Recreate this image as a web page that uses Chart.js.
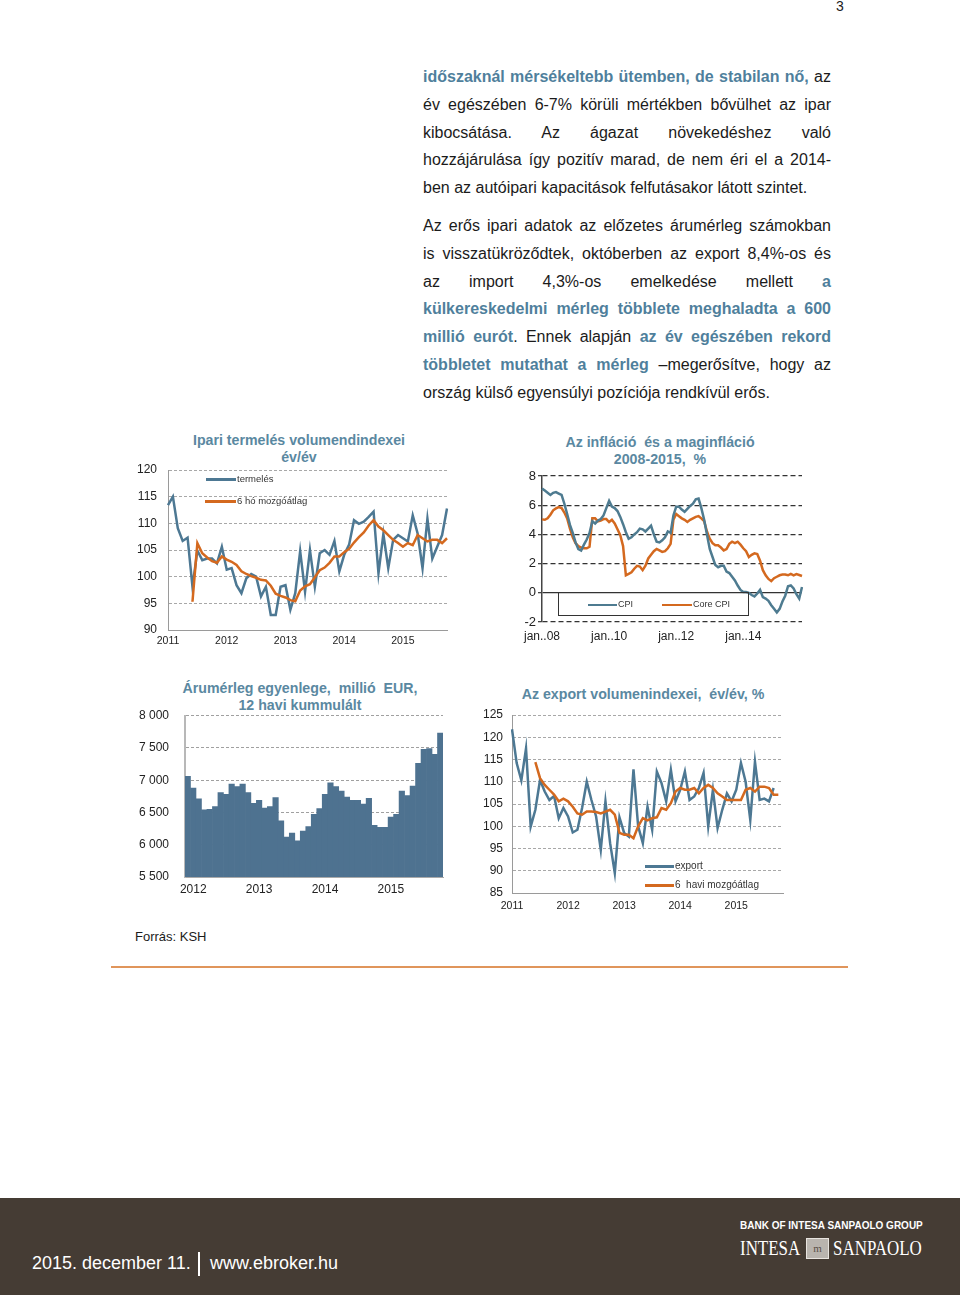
<!DOCTYPE html>
<html lang="hu">
<head>
<meta charset="utf-8">
<title>ebroker – 2015. december 11.</title>
<script src="https://cdn.jsdelivr.net/npm/chart.js@4.4.0/dist/chart.umd.min.js"></script>
<style>
  html, body { margin: 0; padding: 0; background: #fff; }
  body { width: 960px; height: 1295px; position: relative; overflow: hidden;
         font-family: "Liberation Sans", Arial, sans-serif; color: #1b1b1b; }
  .pagenum { position: absolute; left: 836px; top: -2px; font-size: 14px; }
  .para { position: absolute; left: 423px; width: 408px; font-size: 16px; }
  .para div { height: 27.75px; line-height: 27.75px; text-align: justify; text-align-last: justify; }
  .para div.last { text-align: left; text-align-last: left; }
  .hl { color: #4f7f9c; font-weight: bold; }
  .box { position: absolute; }
  .ctitle { position: absolute; width: 300px; text-align: center; font-size: 14.2px; line-height: 17px;
            font-weight: bold; color: #5a88a1; white-space: pre; }
  .lg { position: absolute; font-size: 9.5px; color: #333; line-height: 12px; white-space: nowrap; }
  .lg i { display: inline-block; vertical-align: middle; height: 3px; margin-right: 1px; }
  .cpibox { position: absolute; left: 558px; top: 592px; width: 191px; height: 24px;
            border: 1.5px solid #333; box-sizing: border-box; }
  .source { position: absolute; left: 135px; top: 929px; font-size: 13px; }
  .rule { position: absolute; left: 111px; top: 966px; width: 737px; height: 2px; background: #e0955b; }
  .footer { position: absolute; left: 0; top: 1198px; width: 960px; height: 97px; background: #453c34; color: #fff; }
  .footer div { position: absolute; white-space: nowrap; }
  .fdate { left: 32px; top: 55px; font-size: 18px; line-height: 20px; }
  .fbar { left: 198px; top: 54px; width: 2px; height: 24px; background: #fff; }
  .fweb { left: 210px; top: 55px; font-size: 18px; line-height: 20px; }
  .fgroup { left: 740px; top: 22px; font-size: 10px; font-weight: bold; line-height: 12px; }
  .fword { top: 38px; font-family: "Liberation Serif", serif; font-size: 22px; line-height: 24px;
           transform: scaleX(0.77); transform-origin: left center; }
  .ficon { left: 806px; top: 40px; width: 21px; height: 19px; background: #b9b4ae; border: 1px solid #e8e4df;
           color: #5a5048; font-size: 11px; line-height: 19px; text-align: center; font-family: "Liberation Serif", serif; }
</style>
</head>
<body>

<div class="pagenum">3</div>

<div class="para" style="top:63px">
  <div><span class="hl">időszaknál mérsékeltebb ütemben, de stabilan nő,</span> az</div>
  <div>év egészében 6-7% körüli mértékben bővülhet az ipar</div>
  <div>kibocsátása. Az ágazat növekedéshez való</div>
  <div>hozzájárulása így pozitív marad, de nem éri el a 2014-</div>
  <div class="last">ben az autóipari kapacitások felfutásakor látott szintet.</div>
</div>

<div class="para" style="top:212px">
  <div>Az erős ipari adatok az előzetes árumérleg számokban</div>
  <div>is visszatükröződtek, októberben az export 8,4%-os és</div>
  <div>az import 4,3%-os emelkedése mellett <span class="hl">a</span></div>
  <div><span class="hl">külkereskedelmi mérleg többlete meghaladta a 600</span></div>
  <div><span class="hl">millió eurót</span>. Ennek alapján <span class="hl">az év egészében rekord</span></div>
  <div><span class="hl">többletet mutathat a mérleg</span> –megerősítve, hogy az</div>
  <div class="last">ország külső egyensúlyi pozíciója rendkívül erős.</div>
</div>

<!-- chart titles -->
<div class="ctitle" style="left:149px; top:431.5px">Ipari termelés volumendindexei
év/év</div>
<div class="ctitle" style="left:510px; top:433.5px">Az infláció  és a maginfláció
2008-2015,  %</div>
<div class="ctitle" style="left:150px; top:679.5px">Árumérleg egyenlege,  millió  EUR,
12 havi kummulált</div>
<div class="ctitle" style="left:493px; top:685.5px">Az export volumenindexei,  év/év, %</div>

<div class="box" style="left:125px; top:430px"><canvas id="ipar" width="348" height="232"></canvas></div>
<div class="lg" style="left:206px; top:473px"><i style="width:30px; background:#4d7893"></i>termelés</div>
<div class="lg" style="left:205px; top:495px"><i style="width:31px; background:#d4691f"></i>6 hó mozgóátlag</div>

<div class="box" style="left:500px; top:428px"><canvas id="inflacio" width="320" height="224"></canvas></div>
<div class="cpibox"></div>
<div class="lg" style="left:588px; top:598px; font-size:9px"><i style="width:29px; height:2px; background:#4e7b90"></i>CPI</div>
<div class="lg" style="left:662px; top:598px; font-size:9px"><i style="width:30px; height:2px; background:#d4691f"></i>Core CPI</div>

<div class="box" style="left:128px; top:676px"><canvas id="arumerleg" width="344" height="231"></canvas></div>

<div class="box" style="left:470px; top:680px"><canvas id="export" width="346" height="243"></canvas></div>
<div class="lg" style="left:645px; top:860px; font-size:10px"><i style="width:29px; background:#4d7893"></i>export</div>
<div class="lg" style="left:645px; top:879px; font-size:10px"><i style="width:29px; background:#d4691f"></i>6&nbsp; havi mozgóátlag</div>

<div class="source">Forrás: KSH</div>
<div class="rule"></div>

<div class="footer">
  <div class="fdate">2015. december 11.</div>
  <div class="fbar"></div>
  <div class="fweb">www.ebroker.hu</div>
  <div class="fgroup">BANK OF INTESA SANPAOLO GROUP</div>
  <div class="fword" style="left:740px">INTESA</div>
  <div class="ficon">m</div>
  <div class="fword" style="left:833px">SANPAOLO</div>
</div>

<script>
// Ipari termelés volumenindexe, év/év (2011.01 - 2015.10)
const termeles = [113.4, 115.0, 109.1, 106.7, 107.3, 98.1, 104.9, 103.1, 103.4, 103.4,
  102.5, 105.6, 101.3, 101.6, 98.4, 96.9, 99.7, 100.5, 100.0, 96.3,
  98.1, 92.8, 92.8, 98.1, 98.4, 93.8, 96.9, 104.8, 97.2, 105.0,
  98.1, 104.4, 105.0, 104.1, 106.7, 101.0, 104.1, 106.0, 110.6, 109.9,
  110.3, 111.2, 112.2, 100.6, 108.0, 101.6, 106.9, 107.8, 107.2, 106.6,
  111.5, 108.1, 101.6, 110.9, 103.4, 105.6, 107.8, 112.8];
// 6 hó mozgóátlag (from 2011.06)
const termelesAtlag = [null, null, null, null, null,
  95.3, 106.3, 104.4, 103.6, 102.9, 102.6, 103.8, 103.2, 102.8, 102.2,
  101.0, 100.5, 100.1, 99.8, 99.4, 99.3, 98.3, 96.8, 96.4, 96.1,
  95.6, 95.4, 97.4, 98.2, 98.6, 99.9, 101.2, 101.7, 102.6, 103.8,
  103.8, 104.6, 105.2, 106.4, 107.4, 108.3, 109.6, 110.6, 109.4, 108.7,
  107.8, 106.9, 106.3, 105.6, 106.3, 105.9, 107.8, 107.2, 106.6, 106.9,
  106.9, 106.3, 107.2];

// Infláció, % (2008.01 - 2015.10)
const cpi = [7.15, 7.0, 6.85, 6.7, 6.85, 6.9, 6.8, 6.7, 6.1, 5.4,
  4.65, 4.1, 3.45, 3.0, 2.9, 3.3, 3.65, 4.1, 4.9, 4.75,
  4.95, 5.05, 5.3, 5.8, 6.3, 5.9, 5.8, 5.6, 5.2, 4.7,
  4.15, 3.7, 3.8, 4.0, 4.15, 4.4, 4.35, 4.2, 4.4, 4.6,
  4.0, 3.5, 3.45, 3.6, 3.8, 4.2, 4.1, 5.3, 5.9, 5.9,
  5.7, 5.55, 5.75, 5.95, 6.1, 6.4, 6.45, 5.8, 5.0, 4.0,
  3.0, 2.45, 1.9, 1.75, 1.85, 1.85, 1.45, 1.35, 1.1, 0.85,
  0.5, 0.2, 0.05, 0.05, 0.0, -0.15, -0.25, -0.05, 0.2, -0.3,
  -0.4, -0.55, -0.85, -1.1, -1.35, -1.1, -0.6, -0.2, 0.45, 0.5,
  0.3, -0.1, -0.4, 0.4];
const coreCpi = [5.03, 5.0, 5.1, 5.35, 5.65, 5.78, 5.87, 5.8, 5.5, 5.1,
  4.4, 3.8, 3.4, 3.2, 3.1, 3.05, 3.05, 3.15, 5.1, 5.1,
  4.9, 4.95, 5.05, 5.05, 4.85, 5.0, 4.75, 4.35, 3.95, 3.2,
  1.2, 1.3, 1.4, 1.65, 1.85, 1.8, 1.55, 1.85, 2.35, 2.6,
  2.85, 3.0, 2.9, 2.8, 2.85, 3.05, 3.35, 5.0, 5.4, 5.25,
  5.1, 5.0, 4.85, 5.0, 5.1, 5.2, 5.25, 5.1, 4.9, 4.2,
  3.7, 3.4, 3.25, 3.25, 3.1, 2.9, 3.0, 3.35, 3.5, 3.4,
  3.5, 3.3, 3.05, 2.85, 2.45, 2.6, 2.7, 2.65, 2.2, 1.55,
  1.2, 0.95, 0.8, 1.0, 1.1, 1.2, 1.25, 1.25, 1.2, 1.3,
  1.2, 1.28, 1.22, 1.15];

// Árumérleg egyenlege, millió EUR, 12 havi kumulált (2011.12 - 2015.10)
const arumerleg = [7060, 6880, 6710, 6540, 6550, 6590, 6810, 6780, 6940, 6900,
  6940, 6810, 6640, 6690, 6570, 6590, 6730, 6370, 6120, 6180,
  6060, 6210, 6280, 6470, 6560, 6780, 6960, 6900, 6830, 6740,
  6690, 6690, 6630, 6720, 6300, 6270, 6270, 6430, 6470, 6830,
  6760, 6910, 7260, 7480, 7490, 7400, 7730];

// Export volumenindex, év/év (2011.01 - )
const exportIdx = [121.8, 114.2, 110.3, 117.5, 99.9, 103.7, 110.4, 107.8, 105.9, 106.8,
  101.8, 104.1, 102.2, 98.6, 99.2, 104.1, 110.0, 105.9, 102.2, 94.7,
  105.6, 96.2, 89.5, 102.0, 98.5, 97.7, 112.8, 100.0, 96.2, 104.4,
  99.2, 112.3, 109.7, 105.6, 112.7, 105.6, 108.2, 112.3, 105.9, 106.7,
  108.6, 112.0, 100.0, 108.2, 99.6, 103.7, 107.4, 105.6, 108.2, 114.2,
  110.0, 101.4, 114.5, 105.9, 106.2, 105.6, 108.6];
const exportAtlag = [null, null, null, null, null,
  114.4, 110.8, 109.3, 108.2, 107.1, 105.6, 106.2, 105.6, 104.4, 102.9,
  102.6, 103.3, 103.3, 103.2, 102.9, 103.3, 103.7, 102.6, 98.5, 98.1,
  98.1, 97.3, 100.0, 101.8, 101.3, 101.8, 102.0, 104.1, 103.7, 105.2,
  107.8, 108.6, 108.2, 108.2, 108.6, 107.4, 108.6, 109.3, 108.6, 107.4,
  106.7, 105.9, 105.9, 105.9, 105.9, 108.2, 108.6, 107.8, 108.9, 108.9,
  108.6, 107.1, 107.1];

const BLUE = '#4d7893';
const ORANGE = '#d4691f';

// month labels like "2011.01"
function months(year, month, count) {
  const out = [];
  for (let i = 0; i < count; i++) {
    const m = month - 1 + i;
    out.push((year + Math.floor(m / 12)) + '.' + String(m % 12 + 1).padStart(2, '0'));
  }
  return out;
}

function yearTick(value) {
  const lab = this.getLabelForValue(value);
  return lab.endsWith('.01') ? lab.slice(0, 4) : '';
}

function janTick(value) {
  const lab = this.getLabelForValue(value);
  return lab.endsWith('.01') && Number(lab.slice(0, 4)) % 2 === 0 ? 'jan..' + lab.slice(2, 4) : '';
}

Chart.defaults.font.family = "'Liberation Sans', Arial, sans-serif";
Chart.defaults.color = '#222';
Chart.defaults.animation = false;
Chart.defaults.responsive = false;
Chart.defaults.devicePixelRatio = 1;
Chart.defaults.plugins.legend.display = false;
Chart.defaults.plugins.tooltip.enabled = false;
Chart.defaults.elements.point.radius = 0;
Chart.defaults.elements.line.borderWidth = 2.5;

// Ipari termelés
new Chart(document.getElementById('ipar'), {
  type: 'line',
  data: {
    labels: months(2011, 1, termeles.length),
    datasets: [
      { label: '6 hó mozgóátlag', data: termelesAtlag, borderColor: ORANGE, order: 0 },
      { label: 'termelés', data: termeles, borderColor: BLUE, order: 1 }
    ]
  },
  options: {
    layout: { padding: { left: 0, right: 26, top: 40, bottom: 0 } },
    scales: {
      x: { grid: { display: false, drawTicks: false }, border: { color: '#9a9a9a' },
           ticks: { autoSkip: false, maxRotation: 0, padding: 4.5, font: { size: 10.5 }, callback: yearTick },
           afterFit: s => { s.height = 32; } },
      y: { min: 90, max: 120, ticks: { stepSize: 5, padding: 11, font: { size: 12 } },
           grid: { color: '#a8a8a8', drawTicks: false }, border: { color: '#9a9a9a', dash: [3, 2] },
           afterFit: s => { s.width = 43; } }
    }
  }
});

// Infláció és maginfláció
new Chart(document.getElementById('inflacio'), {
  type: 'line',
  data: {
    labels: months(2008, 1, cpi.length),
    datasets: [
      { label: 'CPI', data: cpi, borderColor: '#4e7b90' },
      { label: 'Core CPI', data: coreCpi, borderColor: ORANGE }
    ]
  },
  options: {
    layout: { padding: { left: 0, right: 18, top: 48, bottom: 0 } },
    scales: {
      x: { grid: { display: false, drawTicks: false }, border: { display: false },
           ticks: { autoSkip: false, maxRotation: 0, padding: 7, font: { size: 12 }, callback: janTick },
           afterFit: s => { s.height = 30; } },
      y: { min: -2, max: 8, ticks: { stepSize: 2, padding: 2, font: { size: 13 } },
           grid: { color: '#333', lineWidth: 1.3, drawTicks: true, tickLength: 4, tickColor: '#444' },
           border: { color: '#444', width: 1.5, dash: ctx => (ctx.tick && ctx.tick.value === 0) ? [] : [5, 3] },
           afterFit: s => { s.width = 42; } }
    }
  }
});

// Árumérleg egyenlege
new Chart(document.getElementById('arumerleg'), {
  type: 'bar',
  data: {
    labels: months(2011, 12, arumerleg.length),
    datasets: [{ label: 'Árumérleg', data: arumerleg, backgroundColor: '#4e7290',
                 barPercentage: 1, categoryPercentage: 1, borderWidth: 0 }]
  },
  options: {
    layout: { padding: { left: 0, right: 29, top: 39.7, bottom: 0 } },
    scales: {
      x: { grid: { display: false, drawTicks: false }, border: { color: '#aaa' },
           ticks: { autoSkip: false, maxRotation: 0, padding: 5.5, font: { size: 12 }, callback: yearTick },
           afterFit: s => { s.height = 30; } },
      y: { min: 5500, max: 8000,
           ticks: { stepSize: 500, padding: 16, font: { size: 12 },
                    callback: v => String(v).replace(/\B(?=(\d{3})+(?!\d))/g, ' ') },
           grid: { color: '#a0a0a0', drawTicks: false }, border: { color: '#b8b8b8', width: 2, dash: [3, 2] },
           afterFit: s => { s.width = 57; } }
    }
  }
});

// Export volumenindex
new Chart(document.getElementById('export'), {
  type: 'line',
  data: {
    labels: months(2011, 1, 59),
    datasets: [
      { label: '6  havi mozgóátlag', data: exportAtlag, borderColor: ORANGE, order: 0 },
      { label: 'export', data: exportIdx, borderColor: BLUE, order: 1 }
    ]
  },
  options: {
    layout: { padding: { left: 0, right: 33, top: 35, bottom: 0 } },
    scales: {
      x: { grid: { display: false, drawTicks: false }, border: { color: '#9a9a9a' },
           ticks: { autoSkip: false, maxRotation: 0, padding: 6.4, font: { size: 10.5 }, callback: yearTick },
           afterFit: s => { s.height = 30; } },
      y: { min: 85, max: 125, ticks: { stepSize: 5, padding: 9, font: { size: 12 } },
           grid: { color: '#a8a8a8', drawTicks: false }, border: { color: '#9a9a9a', dash: [3, 2] },
           afterFit: s => { s.width = 42; } }
    }
  }
});
</script>
</body>
</html>
